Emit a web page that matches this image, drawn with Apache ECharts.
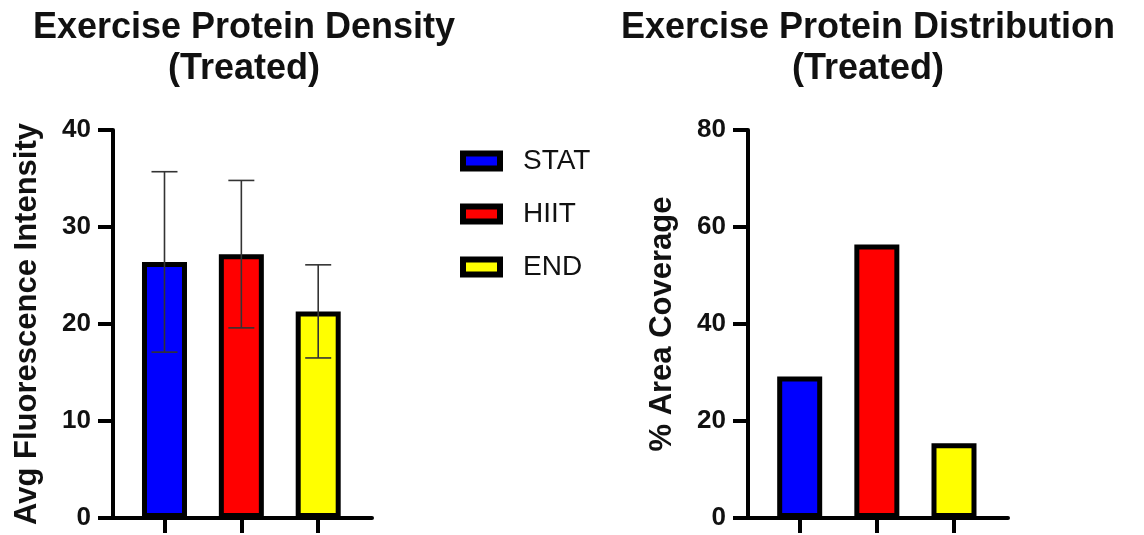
<!DOCTYPE html>
<html>
<head>
<meta charset="utf-8">
<title>Exercise Protein (Treated)</title>
<script src="https://cdn.jsdelivr.net/npm/echarts@6/dist/echarts.min.js"></script>
<style>
  html, body { margin: 0; padding: 0; background: #fff; }
  #chart { width: 1144px; height: 535px; }
</style>
</head>
<body>
<div id="chart"></div>
<script>
// Exercise groups
const groups = ['STAT', 'HIIT', 'END'];
// Avg fluorescence intensity: mean and standard deviation per group
const densityMean = [26.4, 27.2, 21.3];
const densitySD = [9.3, 7.6, 4.8];
// % area coverage per group
const coverage = [29.2, 56.4, 15.4];

const groupColors = ['#0000ff', '#ff0000', '#ffff00'];
const FONT = 'Liberation Sans, Arial, sans-serif';
const INK = '#111';

function valueXAxis(gridIndex) {
  return {
    type: 'value',
    gridIndex: gridIndex,
    min: -0.67,
    max: 2.7,
    splitLine: { show: false },
    axisLine: { show: true, onZero: false, lineStyle: { color: '#000', width: 4 } },
    axisTick: { show: true, customValues: [0, 1, 2], length: 15, lineStyle: { color: '#000', width: 4 } },
    axisLabel: { show: false }
  };
}

function valueYAxis(gridIndex, max, interval, name) {
  return {
    type: 'value',
    gridIndex: gridIndex,
    min: 0,
    max: max,
    interval: interval,
    name: name,
    nameLocation: 'middle',
    nameRotate: 90,
    nameGap: 70,
    nameTextStyle: { fontFamily: FONT, fontSize: 31, fontWeight: 'bold', color: INK },
    splitLine: { show: false },
    axisLine: { show: true, onZero: false, lineStyle: { color: '#000', width: 4 } },
    axisTick: { show: true, length: 15, lineStyle: { color: '#000', width: 4 } },
    axisLabel: { fontFamily: FONT, fontSize: 26, fontWeight: 'bold', color: INK, margin: 22 }
  };
}

function barSeries(values, axisIndex) {
  return groups.map((g, i) => ({
    type: 'bar',
    name: g,
    xAxisIndex: axisIndex,
    yAxisIndex: axisIndex,
    data: [[i, values[i]]],
    barWidth: 45,
    barGap: '-100%',
    itemStyle: { color: groupColors[i], borderColor: '#000', borderWidth: 5 },
    emphasis: { disabled: true },
    z: 2
  }));
}

// error bars (mean ± SD) for the density panel
const errorData = groups.map((g, i) => [i, densityMean[i] - densitySD[i], densityMean[i] + densitySD[i]]);
const errorSeries = {
  type: 'custom',
  name: 'SD',
  xAxisIndex: 0,
  yAxisIndex: 0,
  data: errorData,
  encode: { x: 0, y: [1, 2] },
  z: 5,
  silent: true,
  renderItem: function (params, api) {
    const x = api.value(0);
    const lo = api.coord([x, api.value(1)]);
    const hi = api.coord([x, api.value(2)]);
    const half = 13;
    const style = { stroke: '#333', lineWidth: 1.6 };
    return {
      type: 'group',
      children: [
        { type: 'line', shape: { x1: lo[0], y1: lo[1], x2: hi[0], y2: hi[1] }, style: style },
        { type: 'line', shape: { x1: hi[0] - half, y1: hi[1], x2: hi[0] + half, y2: hi[1] }, style: style },
        { type: 'line', shape: { x1: lo[0] - half, y1: lo[1], x2: lo[0] + half, y2: lo[1] }, style: style }
      ]
    };
  }
};

const titleStyle = { fontFamily: FONT, fontSize: 36, fontWeight: 'bold', color: INK, lineHeight: 41 };

const option = {
  animation: false,
  backgroundColor: '#fff',
  title: [
    { text: 'Exercise Protein Density\n(Treated)', left: 239, top: 3, textAlign: 'center', textStyle: titleStyle },
    { text: 'Exercise Protein Distribution\n(Treated)', left: 863, top: 3, textAlign: 'center', textStyle: titleStyle }
  ],
  legend: {
    data: groups,
    orient: 'vertical',
    left: 455,
    top: 142,
    icon: 'rect',
    itemWidth: 37,
    itemHeight: 15,
    itemGap: 25,
    selectedMode: false,
    itemStyle: { borderColor: '#000', borderWidth: 6 },
    textStyle: { fontFamily: FONT, fontSize: 28, color: INK, lineHeight: 28, padding: [0, 0, 0, 18] }
  },
  grid: [
    { left: 113, top: 130, width: 259, height: 388 },
    { left: 748, top: 130, width: 260, height: 388 }
  ],
  xAxis: [valueXAxis(0), valueXAxis(1)],
  yAxis: [
    valueYAxis(0, 40, 10, 'Avg Fluorescence Intensity'),
    valueYAxis(1, 80, 20, '% Area Coverage')
  ],
  series: [].concat(barSeries(densityMean, 0), barSeries(coverage, 1), [errorSeries])
};

const chart = echarts.init(document.getElementById('chart'), null, { renderer: 'canvas' });
chart.setOption(option);
</script>
</body>
</html>
